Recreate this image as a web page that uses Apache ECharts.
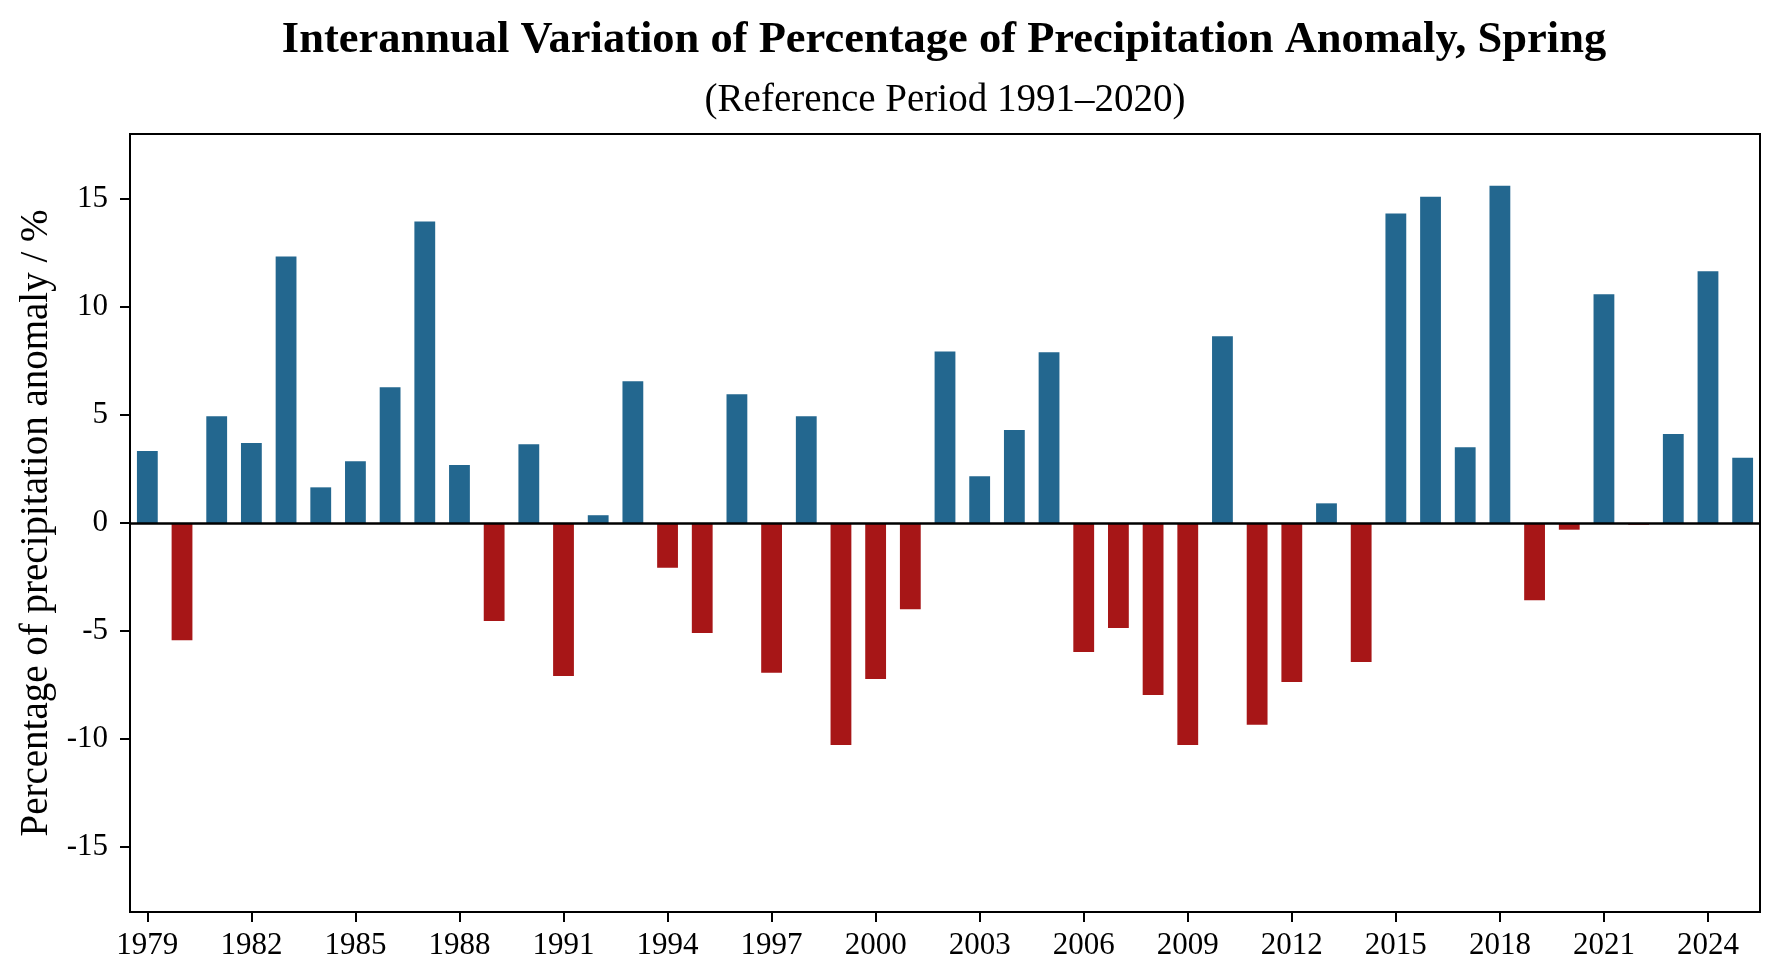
<!DOCTYPE html>
<html>
<head>
<meta charset="utf-8">
<script src="https://cdn.jsdelivr.net/npm/echarts@6/dist/echarts.min.js"></script>
<style>
html,body{margin:0;padding:0;background:#fff;}
#chart{width:1779px;height:980px;}
</style>
</head>
<body>
<div id="chart"></div>
<script>
const years = [];
for (let y = 1979; y <= 2025; y++) years.push(String(y));

const anomaly = [
  3.33, -5.42, 4.94, 3.70, 12.33, 1.65, 2.86, 6.28, 13.95, 2.68,
  -4.54, 3.64, -7.08, 0.36, 6.56, -2.07, -5.09, 5.96, -6.93, 4.94,
  -10.27, -7.22, -3.99, 7.94, 2.16, 4.30, 7.90, -5.97, -4.86, -7.96,
  -10.27, 8.64, -9.34, -7.36, 0.91, -6.43, 14.32, 15.10, 3.51, 15.61,
  -3.57, -0.31, 10.59, -0.08, 4.12, 11.65, 3.02
];

const yTicks = [-15, -10, -5, 0, 5, 10, 15];

const titleText = 'Interannual Variation of Percentage of Precipitation Anomaly, Spring';
const subtitleText = '(Reference Period 1991\u20132020)';
const yAxisTitle = 'Percentage of precipitation anomaly / %';

const BLUE = '#23678F';
const RED = '#A71617';
const FONT = '"Liberation Serif", "Times New Roman", serif';

const chart = echarts.init(document.getElementById('chart'), null, {renderer: 'canvas'});
chart.setOption({
  backgroundColor: '#ffffff',
  animation: false,
  title: [
    {
      text: titleText,
      left: 939, top: 13, textAlign: 'center',
      textStyle: {fontFamily: FONT, fontWeight: 'bold', fontSize: 44.5, color: '#000'}
    },
    {
      text: subtitleText,
      left: 940, top: 76, textAlign: 'center',
      textStyle: {fontFamily: FONT, fontWeight: 'normal', fontSize: 39, color: '#000'}
    }
  ],
  grid: {
    left: 130, right: 19, top: 134, bottom: 68,
    show: true, borderColor: '#000', borderWidth: 2, backgroundColor: 'transparent'
  },
  xAxis: {
    type: 'category',
    data: years,
    boundaryGap: true,
    axisLine: {show: false, onZero: false},
    axisTick: {show: true, interval: 2, alignWithLabel: true, length: 10, lineStyle: {color: '#000', width: 2}},
    axisLabel: {interval: 2, color: '#000', fontFamily: FONT, fontSize: 31, margin: 18},
    splitLine: {show: false}
  },
  yAxis: {
    type: 'value',
    min: -18, max: 18,
    name: yAxisTitle,
    nameLocation: 'middle',
    nameRotate: 90,
    nameGap: 74,
    nameTextStyle: {fontFamily: FONT, fontSize: 39, color: '#000'},
    axisLine: {show: false, onZero: false},
    axisTick: {show: true, customValues: yTicks, length: 10, lineStyle: {color: '#000', width: 2}},
    axisLabel: {customValues: yTicks, color: '#000', fontFamily: FONT, fontSize: 31, margin: 22},
    splitLine: {show: false}
  },
  series: [{
    type: 'bar',
    data: anomaly,
    barWidth: '60%',
    itemStyle: {
      color: function (p) { return p.value >= 0 ? BLUE : RED; }
    },
    markLine: {
      silent: true,
      symbol: 'none',
      label: {show: false},
      lineStyle: {color: '#000', width: 2.5, type: 'solid'},
      data: [{yAxis: 0}],
      z: 10
    }
  }]
});
</script>
</body>
</html>
